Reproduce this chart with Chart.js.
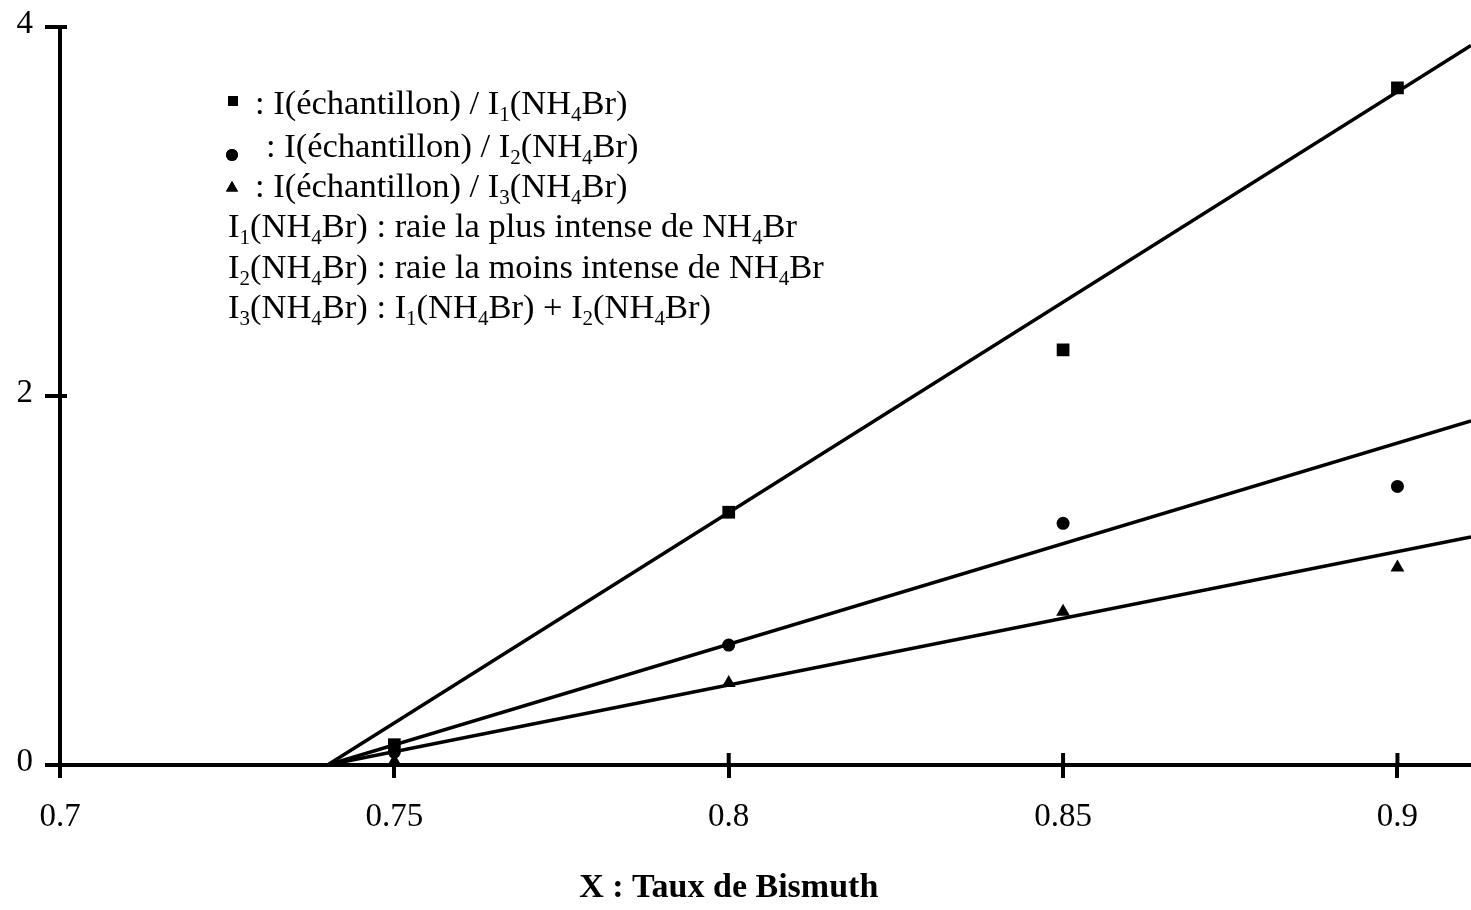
<!DOCTYPE html>
<html lang="fr">
<head>
    <meta charset="UTF-8">
    <title>Rapports d'intensité en fonction du taux de bismuth</title>
    <style>
        body {
            margin: 0;
            background: #fff;
        }
        #chart {
            display: block;
        }
    </style>
</head>
<body>
    <canvas id="chart" width="1471" height="910"></canvas>

    <script src="https://cdn.jsdelivr.net/npm/chart.js"></script>
    <script>
        // axes
        const xRange = [0.7, 0.911];
        const yRange = [0, 4];
        const xTicks = [0.7, 0.75, 0.8, 0.85, 0.9];
        const yTicks = [0, 2, 4];

        // mesures : taux de bismuth X et rapports d'intensité
        const taux = [0.75, 0.8, 0.85, 0.9];
        const ratioI1 = [0.11, 1.37, 2.25, 3.67];
        const ratioI2 = [0.07, 0.65, 1.31, 1.51];
        const ratioI3 = [0.02, 0.445, 0.83, 1.07];

        // droites de régression (extrémités)
        const fitX = [0.74, 0.911];
        const fitI1 = [0, 3.90];
        const fitI2 = [0, 1.865];
        const fitI3 = [0, 1.236];

        // texte de la légende, "_n" = indice
        const notes = [
            ': I(échantillon) / I_1(NH_4Br)',
            ': I(échantillon) / I_2(NH_4Br)',
            ': I(échantillon) / I_3(NH_4Br)',
            'I_1(NH_4Br) : raie la plus intense de NH_4Br',
            'I_2(NH_4Br) : raie la moins intense de NH_4Br',
            'I_3(NH_4Br) : I_1(NH_4Br) + I_2(NH_4Br)'
        ];
        const noteSymbols = ['rect', 'circle', 'triangle'];
        const axisTitle = 'X : Taux de Bismuth';

        const FONT = '"Liberation Serif", "Times New Roman", serif';
        Chart.defaults.font.family = FONT;
        Chart.defaults.color = '#000';

        const toPoints = (xs, ys) => xs.map((x, i) => ({ x: x, y: ys[i] }));

        function markerSet(ys, style, radius) {
            return {
                data: toPoints(taux, ys),
                pointStyle: style,
                pointRadius: radius,
                backgroundColor: '#000',
                borderColor: '#000',
                borderWidth: 0,
                showLine: false
            };
        }

        function fitLine(ys) {
            return {
                data: toPoints(fitX, ys),
                showLine: true,
                pointRadius: 0,
                borderColor: '#000',
                borderWidth: 3.5,
                fill: false
            };
        }

        // petits traits des graduations côté intérieur
        const innerTicks = {
            id: 'innerTicks',
            afterDraw(chart) {
                const { ctx, chartArea, scales } = chart;
                ctx.save();
                ctx.strokeStyle = '#000';
                ctx.lineWidth = 4;
                ctx.beginPath();
                yTicks.forEach(v => {
                    const y = scales.y.getPixelForValue(v);
                    ctx.moveTo(chartArea.left, y);
                    ctx.lineTo(chartArea.left + 7, y);
                });
                xTicks.slice(1).forEach(v => {
                    const x = scales.x.getPixelForValue(v);
                    ctx.moveTo(x, chartArea.bottom);
                    ctx.lineTo(x, chartArea.bottom - 12);
                });
                ctx.stroke();
                ctx.restore();
            }
        };

        // texte avec indices
        function drawRich(ctx, text, x, y, size) {
            const parts = text.split(/_(\d)/);
            parts.forEach((part, i) => {
                if (!part) return;
                const sub = i % 2 === 1;
                ctx.font = (sub ? Math.round(size * 0.62) : size) + 'px ' + FONT;
                ctx.fillText(part, x, sub ? y + 7 : y);
                x += ctx.measureText(part).width;
            });
        }

        const notesBox = {
            id: 'notesBox',
            afterDraw(chart, args, opts) {
                const ctx = chart.ctx;
                ctx.save();
                ctx.fillStyle = '#000';
                ctx.textBaseline = 'alphabetic';
                ctx.textAlign = 'left';
                notes.forEach((line, i) => {
                    drawRich(ctx, line, opts.textX[i], opts.baselines[i], opts.size);
                });
                noteSymbols.forEach((style, i) => {
                    const m = opts.symbols[i];
                    Chart.helpers.drawPoint(ctx, { pointStyle: style, radius: m[2], rotation: 0, borderWidth: 0 }, m[0], m[1]);
                    ctx.fill();
                });
                ctx.restore();
            }
        };

        const xTitle = {
            id: 'xTitle',
            afterDraw(chart, args, opts) {
                const ctx = chart.ctx;
                ctx.save();
                ctx.fillStyle = '#000';
                ctx.font = 'bold 34px ' + FONT;
                ctx.textAlign = 'center';
                ctx.textBaseline = 'middle';
                ctx.fillText(axisTitle, chart.scales.x.getPixelForValue(opts.at), opts.y);
                ctx.restore();
            }
        };

        const ctx = document.getElementById('chart').getContext('2d');
        const chart = new Chart(ctx, {
            type: 'scatter',
            data: {
                datasets: [
                    fitLine(fitI1),
                    fitLine(fitI2),
                    fitLine(fitI3),
                    markerSet(ratioI1, 'rect', 9),
                    markerSet(ratioI2, 'circle', 6.5),
                    markerSet(ratioI3, 'triangle', 8)
                ]
            },
            options: {
                responsive: false,
                animation: false,
                layout: {
                    autoPadding: false,
                    padding: { top: 27, right: 0, bottom: 0, left: 0 }
                },
                plugins: {
                    legend: { display: false },
                    tooltip: { enabled: false },
                    notesBox: {
                        size: 34.5,
                        textX: [255, 266, 255, 228, 228, 228],
                        baselines: [114, 157, 197, 237, 278, 318],
                        symbols: [[233, 101, 7], [232, 155, 6], [232, 188, 7]]
                    },
                    xTitle: { at: 0.8, y: 888 }
                },
                scales: {
                    x: {
                        type: 'linear',
                        min: xRange[0],
                        max: xRange[1],
                        afterBuildTicks: s => { s.ticks = xTicks.map(v => ({ value: v })); },
                        afterFit: s => {
                            s.height = 145;
                            s.paddingLeft = 0;
                            s.paddingRight = 0;
                        },
                        grid: { drawOnChartArea: false, color: '#000', lineWidth: 4, tickLength: 13 },
                        border: { color: '#000', width: 4 },
                        ticks: { font: { size: 33 }, padding: 20, callback: v => String(v) }
                    },
                    y: {
                        type: 'linear',
                        min: yRange[0],
                        max: yRange[1],
                        afterBuildTicks: s => { s.ticks = yTicks.map(v => ({ value: v })); },
                        afterFit: s => {
                            s.width = 60;
                            s.paddingTop = 0;
                            s.paddingBottom = 0;
                        },
                        grid: { drawOnChartArea: false, color: '#000', lineWidth: 4, tickLength: 15 },
                        border: { color: '#000', width: 4 },
                        ticks: { font: { size: 33 }, padding: 12, labelOffset: -3, callback: v => String(v) }
                    }
                }
            },
            plugins: [innerTicks, notesBox, xTitle]
        });
    </script>
</body>
</html>
